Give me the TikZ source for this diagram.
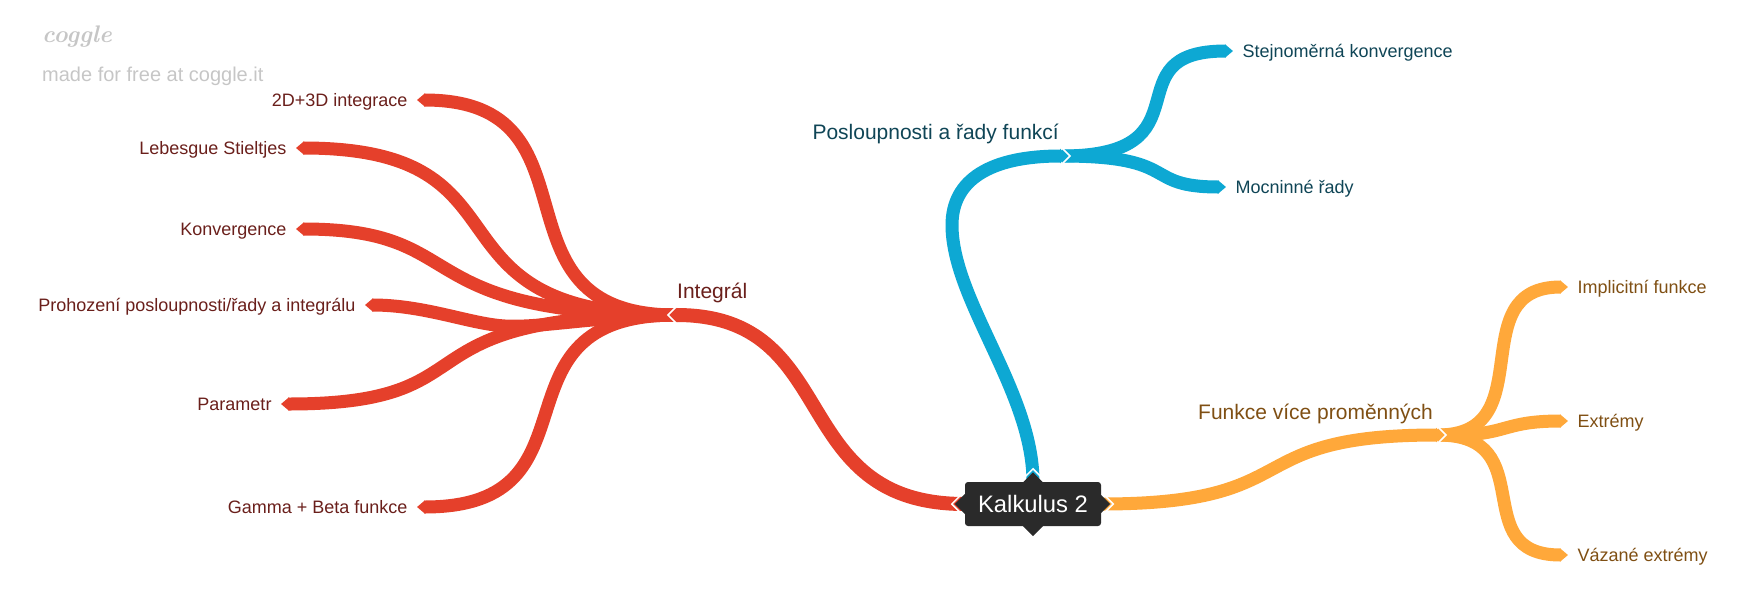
\documentclass[tikz,border=0pt]{standalone}
\usepackage{fontspec}
\setsansfont{Liberation Sans}
\usetikzlibrary{arrows.meta, positioning, backgrounds}
\definecolor{redline}{HTML}{E5402B}
\definecolor{blueline}{HTML}{0DA8D3}
\definecolor{orangeline}{HTML}{FFA83A}
\definecolor{redtext}{HTML}{6A1F1B}
\definecolor{bluetext}{HTML}{0F4556}
\definecolor{orangetext}{HTML}{7F4F13}
\definecolor{rootfill}{HTML}{2A2A2A}
\definecolor{logogray}{HTML}{C6C6C6}
\tikzset{
  leaf/.style={font=\sffamily\fontsize{18}{18}\selectfont, inner sep=0pt, outer xsep=9.5pt, text height=15pt, text depth=2pt},
  mid/.style={font=\sffamily\fontsize{21}{21}\selectfont, inner sep=0pt, text height=16pt, text depth=5pt},
  main/.style={line width=14pt, -{Triangle[length=8pt,width=14pt]}},
  twig/.style={line width=13pt, -{Triangle[length=8pt,width=13pt]}},
  chevron/.pic={\draw[white, line width=1.5pt] (0,-8) -- (-8,0) -- (0,8);},
  roottip/.pic={\fill[rootfill] (10,-10) -- (0,0) -- (10,10) -- cycle;}
}
\begin{document}
\begin{tikzpicture}[x=1pt,y=-1pt]
\useasboundingbox (0,0) rectangle (1750,614);
\node[fill=rootfill, text=white, font=\sffamily\fontsize{23.8}{23.8}\selectfont, rounded corners=3pt, minimum width=136pt, minimum height=44pt, inner sep=0pt] (root) at (1033,504) {Kalkulus 2};

\coordinate (redj) at (676,315);
\coordinate (bluej) at (1062,156);
\coordinate (orangej) at (1438,435);

\node[mid, text=redtext, above right=11pt and 1pt of redj] (integral) {Integrál};
\node[mid, text=bluetext, above left=11.5pt and 3pt of bluej] (posl) {Posloupnosti a řady funkcí};
\node[mid, text=orangetext, above left=10.5pt and 5pt of orangej] (fce) {Funkce více proměnných};

\node[leaf, text=redtext, anchor=east] (l1) at (417,100) {2D+3D integrace};
\node[leaf, text=redtext, anchor=east] (l2) at (296,148) {Lebesgue Stieltjes};
\node[leaf, text=redtext, anchor=east] (l3) at (296,229) {Konvergence};
\node[leaf, text=redtext, anchor=east] (l4) at (365,305) {Prohození posloupnosti/řady a integrálu};
\node[leaf, text=redtext, anchor=east] (l5) at (281,404) {Parametr};
\node[leaf, text=redtext, anchor=east] (l6) at (417,507) {Gamma + Beta funkce};
\node[leaf, text=bluetext, anchor=west] (b1) at (1233,51) {Stejnoměrná konvergence};
\node[leaf, text=bluetext, anchor=west] (b2) at (1226,187) {Mocninné řady};
\node[leaf, text=orangetext, anchor=west] (o1) at (1568,287) {Implicitní funkce};
\node[leaf, text=orangetext, anchor=west] (o2) at (1568,421) {Extrémy};
\node[leaf, text=orangetext, anchor=west] (o3) at (1568,555) {Vázané extrémy};

\node[font=\rmfamily\bfseries\itshape\fontsize{24}{24}\selectfont, text=logogray, anchor=west, inner sep=0pt] (logo) at (42,37) {coggle};
\node[font=\sffamily\fontsize{20}{20}\selectfont, text=logogray, anchor=west, inner sep=0pt] (made) at (42,76) {made for free at coggle.it};

\begin{pgfonlayer}{background}
\draw[twig, redline] (redj) .. controls +(-195,0) and +(192,0) .. (l1.east);
\draw[twig, redline] (redj) .. controls +(-265,0) and +(248,0) .. (l2.east);
\draw[twig, redline] (redj) .. controls +(-275,0) and +(180,0) .. (l3.east);
\draw[twig, redline] (redj) .. controls +(-86,2) and +(35,2) .. (505,326) .. controls +(-35,-2) and +(60,0) .. (l4.east);
\draw[twig, redline] (redj) .. controls +(-290,0) and +(220,0) .. (l5.east);
\draw[twig, redline] (redj) .. controls +(-195,0) and +(192,0) .. (l6.east);
\draw[main, redline] (root.west) .. controls +(-180,0) and +(175,0) .. ([xshift=-7pt]redj);
\draw[twig, blueline] (bluej) .. controls +(150,0) and +(-124,0) .. (b1.west);
\draw[twig, blueline] (bluej) .. controls +(120,0) and +(-85,0) .. (b2.west);
\draw[main, line width=13pt, blueline] (root.north) .. controls +(0,-90) and +(0,75) .. (952,225) .. controls +(0,-45) and +(-78,0) .. ([xshift=6pt]bluej);
\draw[twig, orangeline] (orangej) .. controls +(105,0) and +(-107,0) .. (o1.west);
\draw[twig, orangeline] (orangej) .. controls +(72,2) and +(-70,0) .. (o2.west);
\draw[twig, orangeline] (orangej) .. controls +(105,0) and +(-103,0) .. (o3.west);
\draw[main, line width=13pt, orangeline] (root.east) .. controls +(210,0) and +(-210,0) .. ([xshift=6pt]orangej);
\end{pgfonlayer}

\pic at (redj) {chevron};
\pic[rotate=180] at (bluej) {chevron};
\pic[rotate=180] at (orangej) {chevron};
\pic at ([xshift=-5pt]root.west) {chevron};
\pic[rotate=180] at ([xshift=4pt]root.east) {chevron};
\pic[rotate=-90] at ([yshift=5pt]root.north) {chevron};
\pic at ([xshift=-10pt]root.west) {roottip};
\pic[rotate=180] at ([xshift=9pt]root.east) {roottip};
\pic[rotate=-90] at ([yshift=9.5pt]root.north) {roottip};
\pic[rotate=90] at ([yshift=-10pt]root.south) {roottip};
\end{tikzpicture}
\end{document}
